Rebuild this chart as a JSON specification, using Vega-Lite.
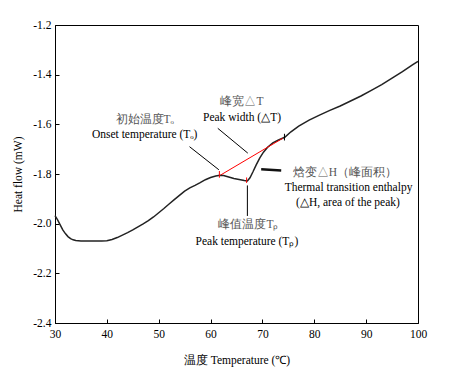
{
  "$schema": "https://vega.github.io/schema/vega-lite/v6.json",
  "width": 363,
  "height": 298,
  "autosize": {"type": "none"},
  "padding": {"left": 55, "top": 25, "right": 45, "bottom": 50},
  "background": "white",
  "config": {
    "font": "Liberation Serif, Times New Roman, serif",
    "view": {"stroke": "black", "strokeWidth": 1},
    "axis": {
      "grid": false,
      "domainColor": "black",
      "tickColor": "black",
      "labelColor": "black",
      "titleColor": "black",
      "labelFont": "Liberation Serif, Times New Roman, serif",
      "titleFont": "Liberation Serif, Times New Roman, serif",
      "labelFontSize": 11.5,
      "titleFontSize": 11.5,
      "titleFontWeight": "normal",
      "tickSize": -4,
      "labelFlush": false,
      "labelOverlap": false
    }
  },
  "layer": [
    {
      "data": {"values": [
        {"x": 30, "y": -1.968}, {"x": 30.5, "y": -1.985}, {"x": 31, "y": -2.005}, {"x": 31.5, "y": -2.025},
        {"x": 32, "y": -2.040}, {"x": 32.5, "y": -2.052}, {"x": 33, "y": -2.060}, {"x": 33.5, "y": -2.065},
        {"x": 34, "y": -2.068}, {"x": 35, "y": -2.070}, {"x": 36, "y": -2.070}, {"x": 37, "y": -2.070},
        {"x": 38, "y": -2.070}, {"x": 39, "y": -2.070}, {"x": 40, "y": -2.069}, {"x": 41, "y": -2.064},
        {"x": 42, "y": -2.056}, {"x": 43, "y": -2.046}, {"x": 44, "y": -2.036}, {"x": 45, "y": -2.025},
        {"x": 46, "y": -2.013}, {"x": 47, "y": -2.001}, {"x": 48, "y": -1.988}, {"x": 49, "y": -1.973},
        {"x": 50, "y": -1.956}, {"x": 51, "y": -1.939}, {"x": 52, "y": -1.921}, {"x": 53, "y": -1.903},
        {"x": 54, "y": -1.886}, {"x": 55, "y": -1.869}, {"x": 56, "y": -1.856}, {"x": 57, "y": -1.846},
        {"x": 58, "y": -1.835}, {"x": 59, "y": -1.823}, {"x": 60, "y": -1.814}, {"x": 61, "y": -1.808},
        {"x": 61.8, "y": -1.805}, {"x": 62.5, "y": -1.806}, {"x": 63.5, "y": -1.812}, {"x": 64.5, "y": -1.818},
        {"x": 65.5, "y": -1.822}, {"x": 66.5, "y": -1.826}, {"x": 67.1, "y": -1.828}, {"x": 67.6, "y": -1.815},
        {"x": 68.2, "y": -1.790}, {"x": 68.8, "y": -1.763}, {"x": 69.5, "y": -1.735}, {"x": 70.2, "y": -1.712},
        {"x": 71, "y": -1.692}, {"x": 72, "y": -1.675}, {"x": 73, "y": -1.664}, {"x": 74.3, "y": -1.652},
        {"x": 75.5, "y": -1.630}, {"x": 77, "y": -1.607}, {"x": 79, "y": -1.583}, {"x": 81, "y": -1.563},
        {"x": 83, "y": -1.544}, {"x": 85, "y": -1.526}, {"x": 87, "y": -1.506}, {"x": 89, "y": -1.486},
        {"x": 91, "y": -1.463}, {"x": 93, "y": -1.440}, {"x": 95, "y": -1.414}, {"x": 97, "y": -1.388},
        {"x": 99, "y": -1.360}, {"x": 100, "y": -1.346}
      ]},
      "mark": {"type": "line", "color": "#222", "strokeWidth": 1.5},
      "encoding": {
        "x": {"field": "x", "type": "quantitative", "scale": {"domain": [30, 100], "nice": false, "zero": false},
          "axis": {"title": "温度 Temperature (℃)", "values": [30, 40, 50, 60, 70, 80, 90, 100], "labelPadding": 9, "titleY": 37, "titleBaseline": "middle"}},
        "y": {"field": "y", "type": "quantitative", "scale": {"domain": [-2.4, -1.2], "nice": false, "zero": false},
          "axis": {"title": "Heat flow (mW)", "values": [-2.4, -2.2, -2.0, -1.8, -1.6, -1.4, -1.2], "labelPadding": 8,
            "labelExpr": "replace(format(datum.value, '.1f'), '\u2212', '-')", "titleX": -34, "titleY": 149, "titleBaseline": "alphabetic"}}
      }
    },
    {
      "data": {"values": [
        {"x": 61.95, "y": -1.804, "x2": 73.93, "y2": -1.656, "c": "red"},
        {"x": 61.7, "y": -1.788, "x2": 61.7, "y2": -1.815, "c": "red"},
        {"x": 66.95, "y": -1.814, "x2": 66.95, "y2": -1.836, "c": "red"},
        {"x": 74.25, "y": -1.638, "x2": 74.25, "y2": -1.665, "c": "black"},
        {"x": 55.94, "y": -1.690, "x2": 61.6, "y2": -1.783, "c": "black"},
        {"x": 61.39, "y": -1.616, "x2": 67.18, "y2": -1.716, "c": "black"},
        {"x": 67.1, "y": -1.846, "x2": 67.1, "y2": -1.969, "c": "black"}
      ]},
      "mark": {"type": "rule", "strokeWidth": 1},
      "encoding": {
        "x": {"field": "x", "type": "quantitative"},
        "y": {"field": "y", "type": "quantitative"},
        "x2": {"field": "x2"},
        "y2": {"field": "y2"},
        "color": {"field": "c", "type": "nominal", "scale": null}
      }
    },
    {
      "data": {"values": [
        {"x": 69.76, "y": -1.781, "x2": 73.62, "y2": -1.786}
      ]},
      "mark": {"type": "rule", "strokeWidth": 2.5, "color": "#111"},
      "encoding": {
        "x": {"field": "x", "type": "quantitative"},
        "y": {"field": "y", "type": "quantitative"},
        "x2": {"field": "x2"},
        "y2": {"field": "y2"}
      }
    },
    {
      "data": {"values": [
        {"x": 47.3, "y": -1.582, "t": "初始温度Tₒ", "c": "#555"},
        {"x": 47.3, "y": -1.643, "t": "Onset temperature (Tₒ)", "c": "black"},
        {"x": 66.06, "y": -1.510, "t": "峰宽△T", "c": "#555"},
        {"x": 66.06, "y": -1.574, "t": "Peak width (△T)", "c": "black"},
        {"x": 85.9, "y": -1.796, "t": "焓变△H（峰面积）", "c": "#555"},
        {"x": 86.6, "y": -1.856, "t": "Thermal transition enthalpy", "c": "black"},
        {"x": 86.5, "y": -1.916, "t": "(△H, area of the peak)", "c": "black"},
        {"x": 67.3, "y": -2.005, "t": "峰值温度Tₚ", "c": "#555"},
        {"x": 67.0, "y": -2.073, "t": "Peak temperature (Tₚ)", "c": "black"}
      ]},
      "mark": {"type": "text", "fontSize": 11.5, "font": "Liberation Serif, Times New Roman, serif", "align": "center", "baseline": "middle"},
      "encoding": {
        "x": {"field": "x", "type": "quantitative"},
        "y": {"field": "y", "type": "quantitative"},
        "text": {"field": "t"},
        "color": {"field": "c", "type": "nominal", "scale": null}
      }
    }
  ]
}
